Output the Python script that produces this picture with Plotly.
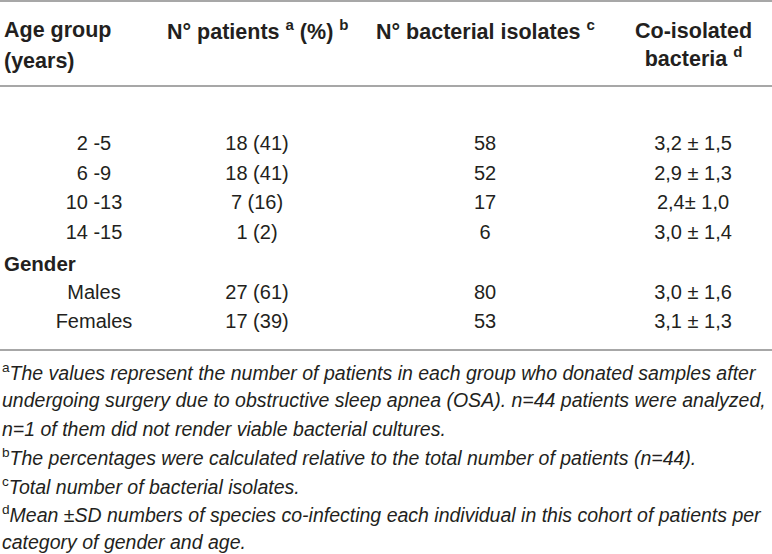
import plotly.graph_objects as go

# table data
age_groups = ["2 -5", "6 -9", "10 -13", "14 -15"]
gender_groups = ["Males", "Females"]
n_patients = [18, 18, 7, 1, 27, 17]
pct_patients = [41, 41, 16, 2, 61, 39]
n_isolates = [58, 52, 17, 6, 80, 53]
co_mean = [3.2, 2.9, 2.4, 3.0, 3.0, 3.1]
co_sd = [1.5, 1.3, 1.0, 1.4, 1.6, 1.3]
co_sep = [" ± ", " ± ", "± ", " ± ", " ± ", " ± "]  # as printed

headers = [
    "N° patients <sup>a</sup> (%) <sup>b</sup>",
    "N° bacterial isolates <sup>c</sup>",
    "Co-isolated<br>bacteria <sup>d</sup>",
]
footnotes = [
    "<sup>a</sup><i>The values represent the number of patients in each group who donated samples after</i>",
    "<i>undergoing surgery due to obstructive sleep apnea (OSA). n=44 patients were analyzed,</i>",
    "<i>n=1 of them did not render viable bacterial cultures.</i>",
    "<sup>b</sup><i>The percentages were calculated relative to the total number of patients (n=44).</i>",
    "<sup>c</sup><i>Total number of bacterial isolates.</i>",
    "<sup>d</sup><i>Mean ±SD numbers of species co-infecting each individual in this cohort of patients per</i>",
    "<i>category of gender and age.</i>",
]

W, H = 772, 554
FONT = "Liberation Sans, Arial, sans-serif"
TXT = "#231f20"
RULE = "#8a8a8a"

def dec(v):
    return f"{v:.1f}".replace(".", ",")

labels = age_groups + gender_groups
col2 = [f"{n} ({p})" for n, p in zip(n_patients, pct_patients)]
col3 = [str(v) for v in n_isolates]
col4 = [dec(m) + s + dec(sd) for m, sd, s in zip(co_mean, co_sd, co_sep)]

row0, step = 145, 29.7
ys = [row0 + i * step for i in range(4)] + [row0 + (5 + i) * step for i in range(2)]
gender_y = row0 + 4 * step

col_x = [94, 257, 485, 693]

fig = go.Figure()
for cx, vals in zip(col_x, [labels, col2, col3, col4]):
    fig.add_trace(go.Scatter(
        x=[cx] * len(vals), y=ys, text=vals, mode="text",
        textposition="middle center",
        textfont=dict(family=FONT, size=20, color=TXT),
        hoverinfo="skip", showlegend=False,
    ))

ann = []
hdr = dict(family=FONT, size=21.5, color=TXT)
ann.append(dict(x=2, y=30, text="<b>Age group</b>", xanchor="left", font=hdr))
ann.append(dict(x=2, y=61, text="<b>(years)</b>", xanchor="left", font=hdr))
for cx, h in zip(col_x[1:], headers):
    ann.append(dict(x=cx, y=30 if "<br>" not in h else 45, text="<b>" + h + "</b>",
                    xanchor="center", font=hdr))
ann.append(dict(x=2, y=gender_y, text="<b>Gender</b>", xanchor="left",
                font=dict(family=FONT, size=20.5, color=TXT)))
for i, t in enumerate(footnotes):
    ann.append(dict(x=0, y=372 + i * 28.4, text=t, xanchor="left",
                    font=dict(family=FONT, size=19.5, color=TXT)))
for a in ann:
    a.update(xref="x", yref="y", yanchor="middle", showarrow=False)
fig.update_layout(annotations=ann)

for yy in [1, 86, 350]:
    fig.add_shape(type="line", x0=0, x1=W, y0=yy, y1=yy, xref="x", yref="y",
                  line=dict(color=RULE, width=1.5))

fig.update_layout(
    width=W, height=H, margin=dict(l=0, r=0, t=0, b=0),
    paper_bgcolor="white", plot_bgcolor="white",
    xaxis=dict(range=[0, W], visible=False, fixedrange=True),
    yaxis=dict(range=[H, 0], visible=False, fixedrange=True),
)

# page body has a default 8px margin; drop it so the figure fills the window
fig.write_html("out.html", config={"displayModeBar": False},
               post_script="document.body.style.margin='0';")
